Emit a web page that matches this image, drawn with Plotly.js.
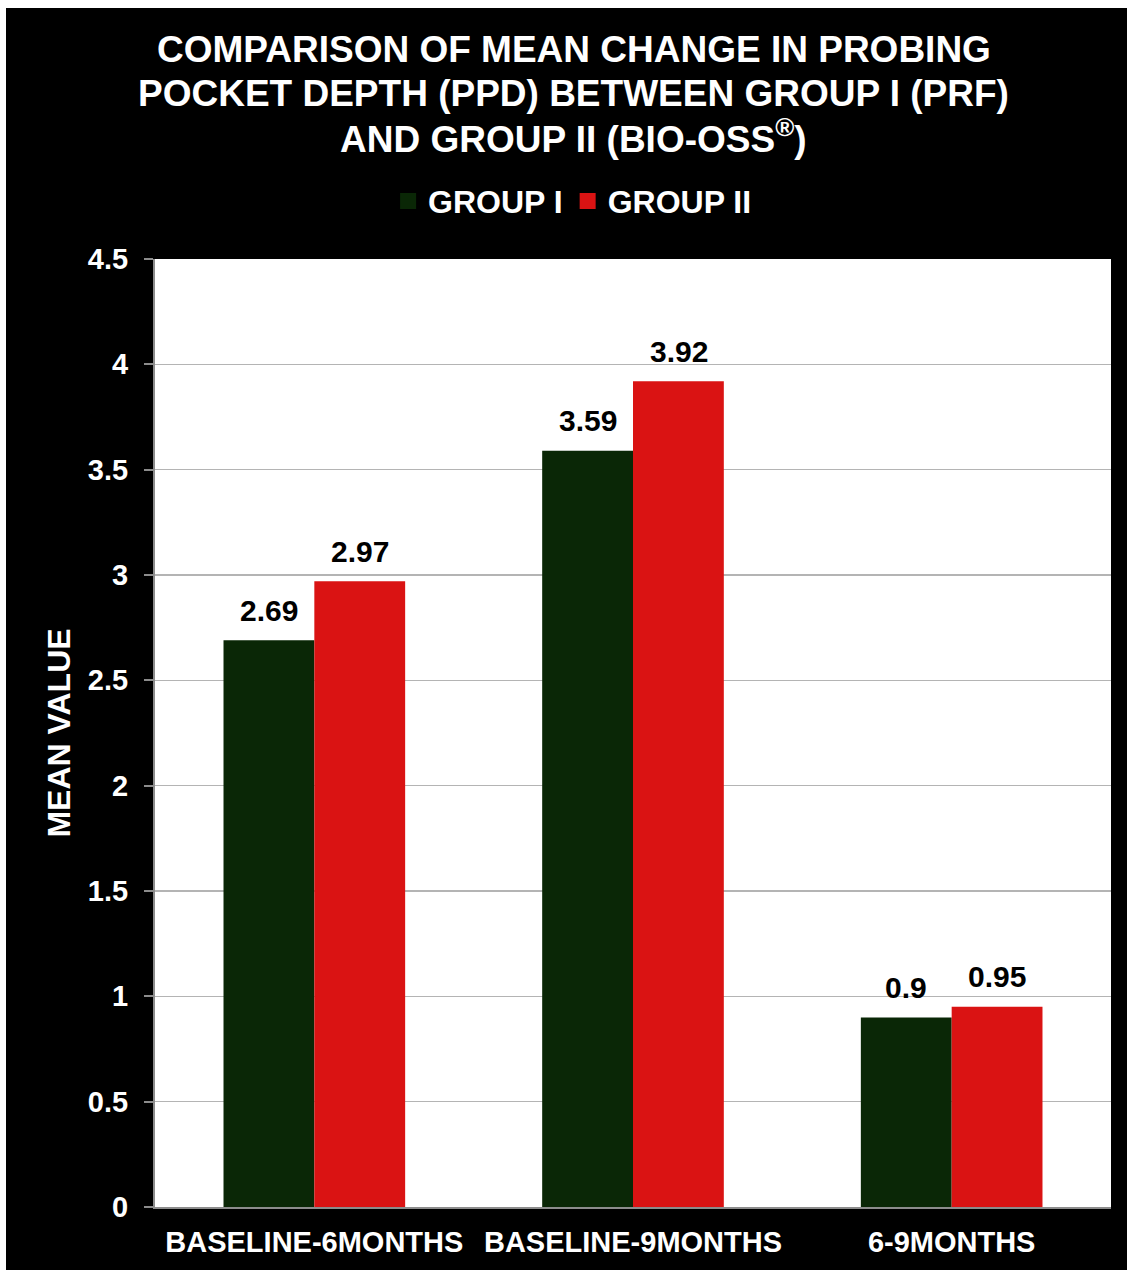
<!DOCTYPE html>
<html>
<head>
<meta charset="utf-8">
<script src="https://cdn.plot.ly/plotly-3.0.1.min.js"></script>
<style>
  html, body { margin: 0; padding: 0; background: #ffffff; }
  #chart { position: absolute; left: 6px; top: 8px; width: 1121px; height: 1262px; }
</style>
</head>
<body>
<div id="chart"></div>
<script>
const categories = ['BASELINE-6MONTHS', 'BASELINE-9MONTHS', '6-9MONTHS'];
const groupI = [2.69, 3.59, 0.9];
const groupII = [2.97, 3.92, 0.95];
const seriesNames = ['GROUP I', 'GROUP II'];
const seriesColors = ['#0a2706', '#da1313'];
const yTicks = [0, 0.5, 1, 1.5, 2, 2.5, 3, 3.5, 4, 4.5];
const titleLines = [
  'COMPARISON OF MEAN CHANGE IN PROBING',
  'POCKET DEPTH (PPD) BETWEEN GROUP I (PRF)',
  'AND GROUP II (BIO-OSS<sup>®</sup>)'
];

const FONT = 'Liberation Sans, Arial, Helvetica, sans-serif';

const traces = [
  { type: 'bar', name: seriesNames[0], x: categories, y: groupI,
    marker: { color: seriesColors[0] }, showlegend: false },
  { type: 'bar', name: seriesNames[1], x: categories, y: groupII,
    marker: { color: seriesColors[1] }, showlegend: false },
  // legend entries (square keys)
  { type: 'scatter', mode: 'markers', name: seriesNames[0], x: [null], y: [null],
    marker: { symbol: 'square', size: 17, color: seriesColors[0] }, hoverinfo: 'skip' },
  { type: 'scatter', mode: 'markers', name: seriesNames[1], x: [null], y: [null],
    marker: { symbol: 'square', size: 17, color: seriesColors[1] }, hoverinfo: 'skip' }
];

const annotations = [];
// title lines
const titleY = [1.2205, 1.1751, 1.1297];
titleLines.forEach((t, i) => {
  annotations.push({
    text: t, xref: 'paper', yref: 'paper', x: 0.438, y: titleY[i],
    xanchor: 'center', yanchor: 'middle', showarrow: false,
    font: { family: FONT, size: 37, color: '#ffffff', weight: 'bold' }
  });
});
// data labels
[groupI, groupII].forEach((vals, s) => {
  vals.forEach((v, i) => {
    annotations.push({
      text: String(v), xref: 'x', yref: 'y', x: categories[i], y: v,
      xshift: s === 0 ? -45.5 : 45.5, yshift: 30,
      xanchor: 'center', yanchor: 'middle', showarrow: false,
      font: { family: FONT, size: 30, color: '#000000', weight: 'bold' }
    });
  });
});

const layout = {
  width: 1121, height: 1262,
  paper_bgcolor: '#000000', plot_bgcolor: '#ffffff',
  margin: { l: 149, r: 16, t: 251, b: 63 },
  font: { family: FONT, color: '#ffffff' },
  barmode: 'group', bargap: 0.43, bargroupgap: 0,
  showlegend: true,
  legend: {
    orientation: 'h', x: 0.505, xanchor: 'center', xref: 'container',
    y: 0.847, yanchor: 'middle', yref: 'container',
    font: { family: FONT, size: 32, color: '#ffffff', weight: 'bold' },
    itemwidth: 30, bgcolor: 'rgba(0,0,0,0)'
  },
  annotations: annotations,
  xaxis: {
    type: 'category',
    tickfont: { family: FONT, size: 29, color: '#ffffff', weight: 'bold' },
    showline: true, linecolor: '#8c8c8c', linewidth: 2,
    ticks: '', ticklabelstandoff: 8, showgrid: false, fixedrange: true
  },
  yaxis: {
    range: [0, 4.5], tickmode: 'array', tickvals: yTicks, ticktext: yTicks.map(String),
    tickfont: { family: FONT, size: 29, color: '#ffffff', weight: 'bold' },
    showline: true, linecolor: '#8c8c8c', linewidth: 2,
    ticks: 'outside', ticklen: 9, tickwidth: 2, tickcolor: '#8c8c8c',
    ticklabelstandoff: 10,
    showgrid: true, gridcolor: '#b4b4b4', gridwidth: 1.5, zeroline: false,
    title: { text: 'MEAN VALUE', font: { family: FONT, size: 32, color: '#ffffff', weight: 'bold' }, standoff: 8 },
    fixedrange: true
  }
};

Plotly.newPlot('chart', traces, layout, { displayModeBar: false, staticPlot: true });
</script>
</body>
</html>
